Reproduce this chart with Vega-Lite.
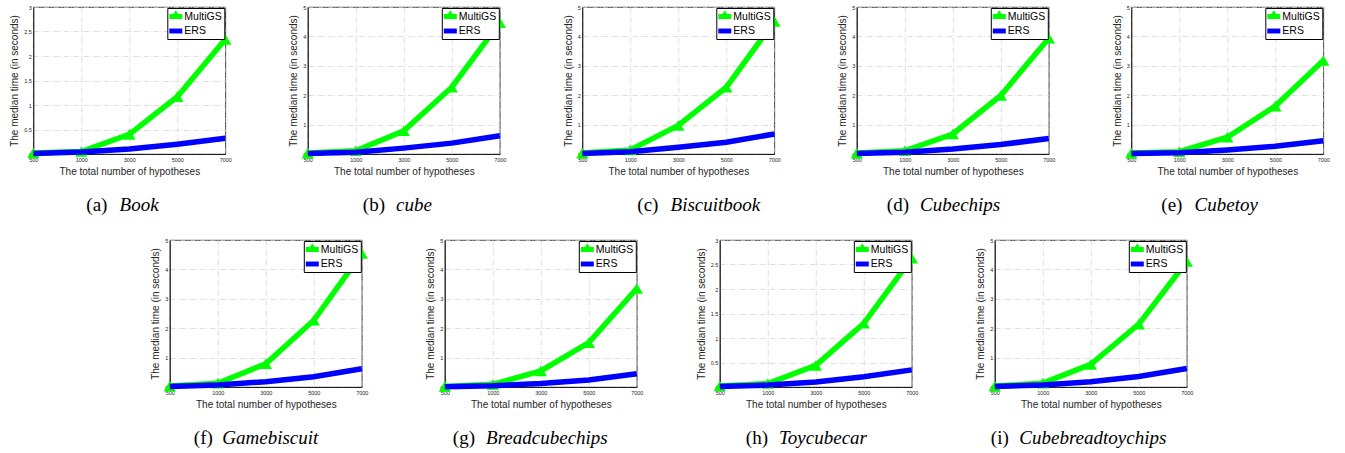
{
"$schema":"https://vega.github.io/schema/vega-lite/v6.json",
"background":"#ffffff",
"padding":{"left":9,"top":4,"right":0,"bottom":0},
"data":{"values":[
{"p":"a","m":"MultiGS","n":500,"t":0.02},{"p":"a","m":"MultiGS","n":1000,"t":0.05},{"p":"a","m":"MultiGS","n":3000,"t":0.40},{"p":"a","m":"MultiGS","n":5000,"t":1.17},{"p":"a","m":"MultiGS","n":7000,"t":2.34},
{"p":"a","m":"ERS","n":500,"t":0.01},{"p":"a","m":"ERS","n":1000,"t":0.04},{"p":"a","m":"ERS","n":3000,"t":0.10},{"p":"a","m":"ERS","n":5000,"t":0.20},{"p":"a","m":"ERS","n":7000,"t":0.32},
{"p":"b","m":"MultiGS","n":500,"t":0.03},{"p":"b","m":"MultiGS","n":1000,"t":0.11},{"p":"b","m":"MultiGS","n":3000,"t":0.79},{"p":"b","m":"MultiGS","n":5000,"t":2.27},{"p":"b","m":"MultiGS","n":7000,"t":4.47},
{"p":"b","m":"ERS","n":500,"t":0.02},{"p":"b","m":"ERS","n":1000,"t":0.06},{"p":"b","m":"ERS","n":3000,"t":0.20},{"p":"b","m":"ERS","n":5000,"t":0.37},{"p":"b","m":"ERS","n":7000,"t":0.62},
{"p":"c","m":"MultiGS","n":500,"t":0.03},{"p":"c","m":"MultiGS","n":1000,"t":0.14},{"p":"c","m":"MultiGS","n":3000,"t":0.97},{"p":"c","m":"MultiGS","n":5000,"t":2.27},{"p":"c","m":"MultiGS","n":7000,"t":4.51},
{"p":"c","m":"ERS","n":500,"t":0.02},{"p":"c","m":"ERS","n":1000,"t":0.08},{"p":"c","m":"ERS","n":3000,"t":0.23},{"p":"c","m":"ERS","n":5000,"t":0.40},{"p":"c","m":"ERS","n":7000,"t":0.68},
{"p":"d","m":"MultiGS","n":500,"t":0.03},{"p":"d","m":"MultiGS","n":1000,"t":0.11},{"p":"d","m":"MultiGS","n":3000,"t":0.68},{"p":"d","m":"MultiGS","n":5000,"t":1.99},{"p":"d","m":"MultiGS","n":7000,"t":3.94},
{"p":"d","m":"ERS","n":500,"t":0.02},{"p":"d","m":"ERS","n":1000,"t":0.06},{"p":"d","m":"ERS","n":3000,"t":0.17},{"p":"d","m":"ERS","n":5000,"t":0.32},{"p":"d","m":"ERS","n":7000,"t":0.53},
{"p":"e","m":"MultiGS","n":500,"t":0.03},{"p":"e","m":"MultiGS","n":1000,"t":0.08},{"p":"e","m":"MultiGS","n":3000,"t":0.57},{"p":"e","m":"MultiGS","n":5000,"t":1.63},{"p":"e","m":"MultiGS","n":7000,"t":3.18},
{"p":"e","m":"ERS","n":500,"t":0.02},{"p":"e","m":"ERS","n":1000,"t":0.04},{"p":"e","m":"ERS","n":3000,"t":0.14},{"p":"e","m":"ERS","n":5000,"t":0.26},{"p":"e","m":"ERS","n":7000,"t":0.45},
{"p":"f","m":"MultiGS","n":500,"t":0.03},{"p":"f","m":"MultiGS","n":1000,"t":0.13},{"p":"f","m":"MultiGS","n":3000,"t":0.79},{"p":"f","m":"MultiGS","n":5000,"t":2.27},{"p":"f","m":"MultiGS","n":7000,"t":4.54},
{"p":"f","m":"ERS","n":500,"t":0.02},{"p":"f","m":"ERS","n":1000,"t":0.07},{"p":"f","m":"ERS","n":3000,"t":0.18},{"p":"f","m":"ERS","n":5000,"t":0.35},{"p":"f","m":"ERS","n":7000,"t":0.62},
{"p":"g","m":"MultiGS","n":500,"t":0.02},{"p":"g","m":"MultiGS","n":1000,"t":0.09},{"p":"g","m":"MultiGS","n":3000,"t":0.55},{"p":"g","m":"MultiGS","n":5000,"t":1.51},{"p":"g","m":"MultiGS","n":7000,"t":3.35},
{"p":"g","m":"ERS","n":500,"t":0.01},{"p":"g","m":"ERS","n":1000,"t":0.04},{"p":"g","m":"ERS","n":3000,"t":0.12},{"p":"g","m":"ERS","n":5000,"t":0.24},{"p":"g","m":"ERS","n":7000,"t":0.45},
{"p":"h","m":"MultiGS","n":500,"t":0.02},{"p":"h","m":"MultiGS","n":1000,"t":0.07},{"p":"h","m":"MultiGS","n":3000,"t":0.44},{"p":"h","m":"MultiGS","n":5000,"t":1.30},{"p":"h","m":"MultiGS","n":7000,"t":2.63},
{"p":"h","m":"ERS","n":500,"t":0.01},{"p":"h","m":"ERS","n":1000,"t":0.04},{"p":"h","m":"ERS","n":3000,"t":0.10},{"p":"h","m":"ERS","n":5000,"t":0.21},{"p":"h","m":"ERS","n":7000,"t":0.35},
{"p":"i","m":"MultiGS","n":500,"t":0.03},{"p":"i","m":"MultiGS","n":1000,"t":0.13},{"p":"i","m":"MultiGS","n":3000,"t":0.77},{"p":"i","m":"MultiGS","n":5000,"t":2.14},{"p":"i","m":"MultiGS","n":7000,"t":4.27},
{"p":"i","m":"ERS","n":500,"t":0.02},{"p":"i","m":"ERS","n":1000,"t":0.07},{"p":"i","m":"ERS","n":3000,"t":0.18},{"p":"i","m":"ERS","n":5000,"t":0.36},{"p":"i","m":"ERS","n":7000,"t":0.63}
]},
"resolve":{"scale":{"color":"independent"},"legend":{"color":"independent"}},
"center":true,
"spacing":22,
"vconcat":[
{"spacing":82.5,"bounds":"flush","resolve":{"scale":{"color":"independent"},"legend":{"color":"independent"}},
"hconcat":[
{"width":192,"height":147,"title":{"text":"(a)","subtitle":"\u200b\u00a0\u00a0\u00a0\u00a0\u00a0\u00a0\u00a0Book","dx":53},
"transform":[{"filter":"datum.p == 'a'"}],
"encoding":{"x":{"field":"n","type":"ordinal","sort":[500,1000,3000,5000,7000],"scale":{"padding":0},"axis":{"title":"The total number of hypotheses","grid":true}},
"y":{"field":"t","type":"quantitative","scale":{"domain":[0,3],"nice":false},"axis":{"title":"The median time (in seconds)","values":[0,0.5,1,1.5,2,2.5,3],"format":"~g","grid":true}}},
"layer":[
{"transform":[{"filter":"datum.m == 'MultiGS'"}],"mark":{"type":"line","strokeWidth":5.5},"encoding":{"color":{"field":"m","type":"nominal","scale":{"domain":["MultiGS","ERS"],"range":["#00ff00","#0000ff"]},"legend":{"title":null,"encode":{"symbols":{"update":{"shape":{"signal":"datum.value === 'MultiGS' ? 'M-1,-0.38H1V0.38H-1Z M0,-0.95L0.85,0.38H-0.85Z' : 'M-1,-0.38H1V0.38H-1Z'"},"fill":{"signal":"datum.value === 'MultiGS' ? '#00ff00' : '#0000ff'"},"strokeWidth":{"value":0}}}}}}}},
{"transform":[{"filter":"datum.m == 'MultiGS'"}],"mark":{"type":"point","shape":"triangle-up","filled":true,"size":150,"color":"#00ff00","opacity":1}},
{"transform":[{"filter":"datum.m == 'ERS'"}],"mark":{"type":"line","strokeWidth":5.5},"encoding":{"color":{"field":"m","type":"nominal","scale":{"domain":["MultiGS","ERS"],"range":["#00ff00","#0000ff"]},"legend":{"title":null,"encode":{"symbols":{"update":{"shape":{"signal":"datum.value === 'MultiGS' ? 'M-1,-0.38H1V0.38H-1Z M0,-0.95L0.85,0.38H-0.85Z' : 'M-1,-0.38H1V0.38H-1Z'"},"fill":{"signal":"datum.value === 'MultiGS' ? '#00ff00' : '#0000ff'"},"strokeWidth":{"value":0}}}}}}}}
]},
{"width":192,"height":147,"title":{"text":"(b)","subtitle":"\u200b\u00a0\u00a0\u00a0\u00a0\u00a0\u00a0\u00a0cube","dx":55},
"transform":[{"filter":"datum.p == 'b'"}],
"encoding":{"x":{"field":"n","type":"ordinal","sort":[500,1000,3000,5000,7000],"scale":{"padding":0},"axis":{"title":"The total number of hypotheses","grid":true}},
"y":{"field":"t","type":"quantitative","scale":{"domain":[0,5],"nice":false},"axis":{"title":"The median time (in seconds)","values":[0,1,2,3,4,5],"format":"~g","grid":true}}},
"layer":[
{"transform":[{"filter":"datum.m == 'MultiGS'"}],"mark":{"type":"line","strokeWidth":5.5},"encoding":{"color":{"field":"m","type":"nominal","scale":{"domain":["MultiGS","ERS"],"range":["#00ff00","#0000ff"]},"legend":{"title":null,"encode":{"symbols":{"update":{"shape":{"signal":"datum.value === 'MultiGS' ? 'M-1,-0.38H1V0.38H-1Z M0,-0.95L0.85,0.38H-0.85Z' : 'M-1,-0.38H1V0.38H-1Z'"},"fill":{"signal":"datum.value === 'MultiGS' ? '#00ff00' : '#0000ff'"},"strokeWidth":{"value":0}}}}}}}},
{"transform":[{"filter":"datum.m == 'MultiGS'"}],"mark":{"type":"point","shape":"triangle-up","filled":true,"size":150,"color":"#00ff00","opacity":1}},
{"transform":[{"filter":"datum.m == 'ERS'"}],"mark":{"type":"line","strokeWidth":5.5},"encoding":{"color":{"field":"m","type":"nominal","scale":{"domain":["MultiGS","ERS"],"range":["#00ff00","#0000ff"]},"legend":{"title":null,"encode":{"symbols":{"update":{"shape":{"signal":"datum.value === 'MultiGS' ? 'M-1,-0.38H1V0.38H-1Z M0,-0.95L0.85,0.38H-0.85Z' : 'M-1,-0.38H1V0.38H-1Z'"},"fill":{"signal":"datum.value === 'MultiGS' ? '#00ff00' : '#0000ff'"},"strokeWidth":{"value":0}}}}}}}}
]},
{"width":192,"height":147,"title":{"text":"(c)","subtitle":"\u200b\u00a0\u00a0\u00a0\u00a0\u00a0\u00a0\u00a0Biscuitbook","dx":55},
"transform":[{"filter":"datum.p == 'c'"}],
"encoding":{"x":{"field":"n","type":"ordinal","sort":[500,1000,3000,5000,7000],"scale":{"padding":0},"axis":{"title":"The total number of hypotheses","grid":true}},
"y":{"field":"t","type":"quantitative","scale":{"domain":[0,5],"nice":false},"axis":{"title":"The median time (in seconds)","values":[0,1,2,3,4,5],"format":"~g","grid":true}}},
"layer":[
{"transform":[{"filter":"datum.m == 'MultiGS'"}],"mark":{"type":"line","strokeWidth":5.5},"encoding":{"color":{"field":"m","type":"nominal","scale":{"domain":["MultiGS","ERS"],"range":["#00ff00","#0000ff"]},"legend":{"title":null,"encode":{"symbols":{"update":{"shape":{"signal":"datum.value === 'MultiGS' ? 'M-1,-0.38H1V0.38H-1Z M0,-0.95L0.85,0.38H-0.85Z' : 'M-1,-0.38H1V0.38H-1Z'"},"fill":{"signal":"datum.value === 'MultiGS' ? '#00ff00' : '#0000ff'"},"strokeWidth":{"value":0}}}}}}}},
{"transform":[{"filter":"datum.m == 'MultiGS'"}],"mark":{"type":"point","shape":"triangle-up","filled":true,"size":150,"color":"#00ff00","opacity":1}},
{"transform":[{"filter":"datum.m == 'ERS'"}],"mark":{"type":"line","strokeWidth":5.5},"encoding":{"color":{"field":"m","type":"nominal","scale":{"domain":["MultiGS","ERS"],"range":["#00ff00","#0000ff"]},"legend":{"title":null,"encode":{"symbols":{"update":{"shape":{"signal":"datum.value === 'MultiGS' ? 'M-1,-0.38H1V0.38H-1Z M0,-0.95L0.85,0.38H-0.85Z' : 'M-1,-0.38H1V0.38H-1Z'"},"fill":{"signal":"datum.value === 'MultiGS' ? '#00ff00' : '#0000ff'"},"strokeWidth":{"value":0}}}}}}}}
]},
{"width":192,"height":147,"title":{"text":"(d)","subtitle":"\u200b\u00a0\u00a0\u00a0\u00a0\u00a0\u00a0\u00a0Cubechips","dx":30},
"transform":[{"filter":"datum.p == 'd'"}],
"encoding":{"x":{"field":"n","type":"ordinal","sort":[500,1000,3000,5000,7000],"scale":{"padding":0},"axis":{"title":"The total number of hypotheses","grid":true}},
"y":{"field":"t","type":"quantitative","scale":{"domain":[0,5],"nice":false},"axis":{"title":"The median time (in seconds)","values":[0,1,2,3,4,5],"format":"~g","grid":true}}},
"layer":[
{"transform":[{"filter":"datum.m == 'MultiGS'"}],"mark":{"type":"line","strokeWidth":5.5},"encoding":{"color":{"field":"m","type":"nominal","scale":{"domain":["MultiGS","ERS"],"range":["#00ff00","#0000ff"]},"legend":{"title":null,"encode":{"symbols":{"update":{"shape":{"signal":"datum.value === 'MultiGS' ? 'M-1,-0.38H1V0.38H-1Z M0,-0.95L0.85,0.38H-0.85Z' : 'M-1,-0.38H1V0.38H-1Z'"},"fill":{"signal":"datum.value === 'MultiGS' ? '#00ff00' : '#0000ff'"},"strokeWidth":{"value":0}}}}}}}},
{"transform":[{"filter":"datum.m == 'MultiGS'"}],"mark":{"type":"point","shape":"triangle-up","filled":true,"size":150,"color":"#00ff00","opacity":1}},
{"transform":[{"filter":"datum.m == 'ERS'"}],"mark":{"type":"line","strokeWidth":5.5},"encoding":{"color":{"field":"m","type":"nominal","scale":{"domain":["MultiGS","ERS"],"range":["#00ff00","#0000ff"]},"legend":{"title":null,"encode":{"symbols":{"update":{"shape":{"signal":"datum.value === 'MultiGS' ? 'M-1,-0.38H1V0.38H-1Z M0,-0.95L0.85,0.38H-0.85Z' : 'M-1,-0.38H1V0.38H-1Z'"},"fill":{"signal":"datum.value === 'MultiGS' ? '#00ff00' : '#0000ff'"},"strokeWidth":{"value":0}}}}}}}}
]},
{"width":192,"height":147,"title":{"text":"(e)","subtitle":"\u200b\u00a0\u00a0\u00a0\u00a0\u00a0\u00a0\u00a0Cubetoy","dx":30},
"transform":[{"filter":"datum.p == 'e'"}],
"encoding":{"x":{"field":"n","type":"ordinal","sort":[500,1000,3000,5000,7000],"scale":{"padding":0},"axis":{"title":"The total number of hypotheses","grid":true}},
"y":{"field":"t","type":"quantitative","scale":{"domain":[0,5],"nice":false},"axis":{"title":"The median time (in seconds)","values":[0,1,2,3,4,5],"format":"~g","grid":true}}},
"layer":[
{"transform":[{"filter":"datum.m == 'MultiGS'"}],"mark":{"type":"line","strokeWidth":5.5},"encoding":{"color":{"field":"m","type":"nominal","scale":{"domain":["MultiGS","ERS"],"range":["#00ff00","#0000ff"]},"legend":{"title":null,"encode":{"symbols":{"update":{"shape":{"signal":"datum.value === 'MultiGS' ? 'M-1,-0.38H1V0.38H-1Z M0,-0.95L0.85,0.38H-0.85Z' : 'M-1,-0.38H1V0.38H-1Z'"},"fill":{"signal":"datum.value === 'MultiGS' ? '#00ff00' : '#0000ff'"},"strokeWidth":{"value":0}}}}}}}},
{"transform":[{"filter":"datum.m == 'MultiGS'"}],"mark":{"type":"point","shape":"triangle-up","filled":true,"size":150,"color":"#00ff00","opacity":1}},
{"transform":[{"filter":"datum.m == 'ERS'"}],"mark":{"type":"line","strokeWidth":5.5},"encoding":{"color":{"field":"m","type":"nominal","scale":{"domain":["MultiGS","ERS"],"range":["#00ff00","#0000ff"]},"legend":{"title":null,"encode":{"symbols":{"update":{"shape":{"signal":"datum.value === 'MultiGS' ? 'M-1,-0.38H1V0.38H-1Z M0,-0.95L0.85,0.38H-0.85Z' : 'M-1,-0.38H1V0.38H-1Z'"},"fill":{"signal":"datum.value === 'MultiGS' ? '#00ff00' : '#0000ff'"},"strokeWidth":{"value":0}}}}}}}}
]}
]},
{"spacing":83,"bounds":"flush","resolve":{"scale":{"color":"independent"},"legend":{"color":"independent"}},
"hconcat":[
{"width":192,"height":147,"title":{"text":"(f)","subtitle":"\u200b\u00a0\u00a0\u00a0\u00a0\u00a0\u00a0Gamebiscuit","dx":24},
"transform":[{"filter":"datum.p == 'f'"}],
"encoding":{"x":{"field":"n","type":"ordinal","sort":[500,1000,3000,5000,7000],"scale":{"padding":0},"axis":{"title":"The total number of hypotheses","grid":true}},
"y":{"field":"t","type":"quantitative","scale":{"domain":[0,5],"nice":false},"axis":{"title":"The median time (in seconds)","values":[0,1,2,3,4,5],"format":"~g","grid":true}}},
"layer":[
{"transform":[{"filter":"datum.m == 'MultiGS'"}],"mark":{"type":"line","strokeWidth":5.5},"encoding":{"color":{"field":"m","type":"nominal","scale":{"domain":["MultiGS","ERS"],"range":["#00ff00","#0000ff"]},"legend":{"title":null,"encode":{"symbols":{"update":{"shape":{"signal":"datum.value === 'MultiGS' ? 'M-1,-0.38H1V0.38H-1Z M0,-0.95L0.85,0.38H-0.85Z' : 'M-1,-0.38H1V0.38H-1Z'"},"fill":{"signal":"datum.value === 'MultiGS' ? '#00ff00' : '#0000ff'"},"strokeWidth":{"value":0}}}}}}}},
{"transform":[{"filter":"datum.m == 'MultiGS'"}],"mark":{"type":"point","shape":"triangle-up","filled":true,"size":150,"color":"#00ff00","opacity":1}},
{"transform":[{"filter":"datum.m == 'ERS'"}],"mark":{"type":"line","strokeWidth":5.5},"encoding":{"color":{"field":"m","type":"nominal","scale":{"domain":["MultiGS","ERS"],"range":["#00ff00","#0000ff"]},"legend":{"title":null,"encode":{"symbols":{"update":{"shape":{"signal":"datum.value === 'MultiGS' ? 'M-1,-0.38H1V0.38H-1Z M0,-0.95L0.85,0.38H-0.85Z' : 'M-1,-0.38H1V0.38H-1Z'"},"fill":{"signal":"datum.value === 'MultiGS' ? '#00ff00' : '#0000ff'"},"strokeWidth":{"value":0}}}}}}}}
]},
{"width":192,"height":147,"title":{"text":"(g)","subtitle":"\u200b\u00a0\u00a0\u00a0\u00a0\u00a0\u00a0\u00a0Breadcubechips","dx":8},
"transform":[{"filter":"datum.p == 'g'"}],
"encoding":{"x":{"field":"n","type":"ordinal","sort":[500,1000,3000,5000,7000],"scale":{"padding":0},"axis":{"title":"The total number of hypotheses","grid":true}},
"y":{"field":"t","type":"quantitative","scale":{"domain":[0,5],"nice":false},"axis":{"title":"The median time (in seconds)","values":[0,1,2,3,4,5],"format":"~g","grid":true}}},
"layer":[
{"transform":[{"filter":"datum.m == 'MultiGS'"}],"mark":{"type":"line","strokeWidth":5.5},"encoding":{"color":{"field":"m","type":"nominal","scale":{"domain":["MultiGS","ERS"],"range":["#00ff00","#0000ff"]},"legend":{"title":null,"encode":{"symbols":{"update":{"shape":{"signal":"datum.value === 'MultiGS' ? 'M-1,-0.38H1V0.38H-1Z M0,-0.95L0.85,0.38H-0.85Z' : 'M-1,-0.38H1V0.38H-1Z'"},"fill":{"signal":"datum.value === 'MultiGS' ? '#00ff00' : '#0000ff'"},"strokeWidth":{"value":0}}}}}}}},
{"transform":[{"filter":"datum.m == 'MultiGS'"}],"mark":{"type":"point","shape":"triangle-up","filled":true,"size":150,"color":"#00ff00","opacity":1}},
{"transform":[{"filter":"datum.m == 'ERS'"}],"mark":{"type":"line","strokeWidth":5.5},"encoding":{"color":{"field":"m","type":"nominal","scale":{"domain":["MultiGS","ERS"],"range":["#00ff00","#0000ff"]},"legend":{"title":null,"encode":{"symbols":{"update":{"shape":{"signal":"datum.value === 'MultiGS' ? 'M-1,-0.38H1V0.38H-1Z M0,-0.95L0.85,0.38H-0.85Z' : 'M-1,-0.38H1V0.38H-1Z'"},"fill":{"signal":"datum.value === 'MultiGS' ? '#00ff00' : '#0000ff'"},"strokeWidth":{"value":0}}}}}}}}
]},
{"width":192,"height":147,"title":{"text":"(h)","subtitle":"\u200b\u00a0\u00a0\u00a0\u00a0\u00a0\u00a0\u00a0Toycubecar","dx":26},
"transform":[{"filter":"datum.p == 'h'"}],
"encoding":{"x":{"field":"n","type":"ordinal","sort":[500,1000,3000,5000,7000],"scale":{"padding":0},"axis":{"title":"The total number of hypotheses","grid":true}},
"y":{"field":"t","type":"quantitative","scale":{"domain":[0,3],"nice":false},"axis":{"title":"The median time (in seconds)","values":[0,0.5,1,1.5,2,2.5,3],"format":"~g","grid":true}}},
"layer":[
{"transform":[{"filter":"datum.m == 'MultiGS'"}],"mark":{"type":"line","strokeWidth":5.5},"encoding":{"color":{"field":"m","type":"nominal","scale":{"domain":["MultiGS","ERS"],"range":["#00ff00","#0000ff"]},"legend":{"title":null,"encode":{"symbols":{"update":{"shape":{"signal":"datum.value === 'MultiGS' ? 'M-1,-0.38H1V0.38H-1Z M0,-0.95L0.85,0.38H-0.85Z' : 'M-1,-0.38H1V0.38H-1Z'"},"fill":{"signal":"datum.value === 'MultiGS' ? '#00ff00' : '#0000ff'"},"strokeWidth":{"value":0}}}}}}}},
{"transform":[{"filter":"datum.m == 'MultiGS'"}],"mark":{"type":"point","shape":"triangle-up","filled":true,"size":150,"color":"#00ff00","opacity":1}},
{"transform":[{"filter":"datum.m == 'ERS'"}],"mark":{"type":"line","strokeWidth":5.5},"encoding":{"color":{"field":"m","type":"nominal","scale":{"domain":["MultiGS","ERS"],"range":["#00ff00","#0000ff"]},"legend":{"title":null,"encode":{"symbols":{"update":{"shape":{"signal":"datum.value === 'MultiGS' ? 'M-1,-0.38H1V0.38H-1Z M0,-0.95L0.85,0.38H-0.85Z' : 'M-1,-0.38H1V0.38H-1Z'"},"fill":{"signal":"datum.value === 'MultiGS' ? '#00ff00' : '#0000ff'"},"strokeWidth":{"value":0}}}}}}}}
]},
{"width":192,"height":147,"title":{"text":"(i)","subtitle":"\u200b\u00a0\u00a0\u00a0\u00a0\u00a0\u00a0Cubebreadtoychips","dx":-4},
"transform":[{"filter":"datum.p == 'i'"}],
"encoding":{"x":{"field":"n","type":"ordinal","sort":[500,1000,3000,5000,7000],"scale":{"padding":0},"axis":{"title":"The total number of hypotheses","grid":true}},
"y":{"field":"t","type":"quantitative","scale":{"domain":[0,5],"nice":false},"axis":{"title":"The median time (in seconds)","values":[0,1,2,3,4,5],"format":"~g","grid":true}}},
"layer":[
{"transform":[{"filter":"datum.m == 'MultiGS'"}],"mark":{"type":"line","strokeWidth":5.5},"encoding":{"color":{"field":"m","type":"nominal","scale":{"domain":["MultiGS","ERS"],"range":["#00ff00","#0000ff"]},"legend":{"title":null,"encode":{"symbols":{"update":{"shape":{"signal":"datum.value === 'MultiGS' ? 'M-1,-0.38H1V0.38H-1Z M0,-0.95L0.85,0.38H-0.85Z' : 'M-1,-0.38H1V0.38H-1Z'"},"fill":{"signal":"datum.value === 'MultiGS' ? '#00ff00' : '#0000ff'"},"strokeWidth":{"value":0}}}}}}}},
{"transform":[{"filter":"datum.m == 'MultiGS'"}],"mark":{"type":"point","shape":"triangle-up","filled":true,"size":150,"color":"#00ff00","opacity":1}},
{"transform":[{"filter":"datum.m == 'ERS'"}],"mark":{"type":"line","strokeWidth":5.5},"encoding":{"color":{"field":"m","type":"nominal","scale":{"domain":["MultiGS","ERS"],"range":["#00ff00","#0000ff"]},"legend":{"title":null,"encode":{"symbols":{"update":{"shape":{"signal":"datum.value === 'MultiGS' ? 'M-1,-0.38H1V0.38H-1Z M0,-0.95L0.85,0.38H-0.85Z' : 'M-1,-0.38H1V0.38H-1Z'"},"fill":{"signal":"datum.value === 'MultiGS' ? '#00ff00' : '#0000ff'"},"strokeWidth":{"value":0}}}}}}}}
]}
]}
],
"config":{
"font":"Liberation Sans",
"view":{"stroke":"#000000","strokeWidth":0.8},
"axis":{"labelFont":"Liberation Sans","labelFontSize":5.5,"labelColor":"#262626","titleFont":"Liberation Sans","titleFontSize":10,"titleFontWeight":"normal","titleColor":"#262626","domainColor":"#000000","domainWidth":0.8,"ticks":false,"gridColor":"#cfcfcf","gridDash":[5,2,1,2],"gridWidth":0.7,"labelPadding":2,"titlePadding":4},
"axisX":{"labelAngle":0,"labelPadding":3,"labelFlush":false,"labelOverlap":false},
"legend":{"orient":"top-right","offset":1,"padding":2,"fillColor":"#ffffff","strokeColor":"#000000","labelFont":"Liberation Sans","labelFontSize":10.5,"labelColor":"#000000","symbolSize":169,"rowPadding":2.5,"labelOffset":2},
"title":{"orient":"bottom","anchor":"start","frame":"group","align":"left","baseline":"top","font":"Liberation Serif","fontSize":19,"fontWeight":"normal","color":"#000000","subtitleFont":"Liberation Serif","subtitleFontSize":19,"subtitleFontStyle":"italic","subtitleColor":"#000000","subtitlePadding":-19,"offset":19}
}
}
